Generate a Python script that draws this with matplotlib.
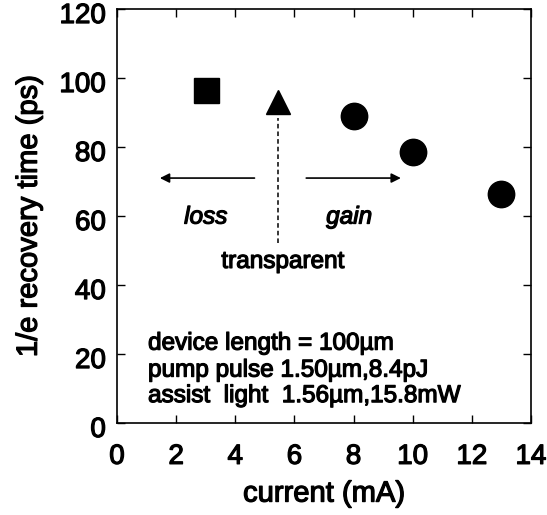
import matplotlib
matplotlib.use("Agg")
import matplotlib.pyplot as plt
import matplotlib.patheffects as pe
from matplotlib.transforms import ScaledTranslation

plt.rcParams['font.family'] = ['Liberation Sans', 'DejaVu Sans']

# data
loss_x = [3.0]
loss_y = [96.5]
transp_x = [5.45]
transp_y = [93.0]
gain_x = [8.0, 10.0, 13.0]
gain_y = [89.0, 78.5, 66.5]

xticks = [0, 2, 4, 6, 8, 10, 12, 14]
yticks = [0, 20, 40, 60, 80, 100, 120]

fig = plt.figure(figsize=(5.47, 5.15), dpi=100)
ax = fig.add_axes([0.2139, 0.1786, 0.7568, 0.8039])

ax.plot(loss_x, loss_y, 's', color='black', markersize=18)
ax.plot(transp_x, transp_y, '^', color='black', markersize=17)
ax.plot(gain_x, gain_y, 'o', color='black', markersize=19)

# arrows
ax.annotate('', xy=(1.45, 71), xytext=(4.65, 71),
            arrowprops=dict(arrowstyle='-|>', color='black', lw=1.2, mutation_scale=14, shrinkA=0, shrinkB=0))
ax.annotate('', xy=(9.6, 71), xytext=(6.4, 71),
            arrowprops=dict(arrowstyle='-|>', color='black', lw=1.2, mutation_scale=14, shrinkA=0, shrinkB=0))
ax.plot([5.45, 5.45], [52.2, 88.3], color='black', lw=1.1, ls=(0, (3, 2)))

thick = [pe.withStroke(linewidth=0.9, foreground='black')]
kw = dict(fontsize=17.5, path_effects=thick)
ax.text(3.0, 59.7, 'loss', style='italic', ha='center', va='center', **kw)
ax.text(7.85, 59.7, 'gain', style='italic', ha='center', va='center', **kw)
ax.text(5.6, 46.7, 'transparent', ha='center', va='center', **kw)

ax.text(1.05, 23.0, 'device length = 100µm', ha='left', va='center', **kw)
ax.text(1.05, 15.2, 'pump pulse 1.50µm,8.4pJ', ha='left', va='center', **kw)
ax.text(1.05, 7.8, 'assist  light  1.56µm,15.8mW', ha='left', va='center', **kw)

ax.set_xlim(0, 14)
ax.set_ylim(0, 120)
ax.set_xticks(xticks)
ax.set_yticks(yticks)
ax.tick_params(direction='in', length=6, width=1, top=True, right=True, labelsize=20)
ax.tick_params(axis='x', pad=15)
ax.tick_params(axis='y', pad=8)
shift = ScaledTranslation(0, -4 / 100, fig.dpi_scale_trans)
for lbl in ax.get_xticklabels():
    lbl.set_path_effects(thick)
for lbl in ax.get_yticklabels():
    lbl.set_path_effects(thick)
    lbl.set_transform(lbl.get_transform() + shift)
for s in ax.spines.values():
    s.set_linewidth(1.2)
ax.set_xlabel('current (mA)', fontsize=21, labelpad=7, path_effects=thick)
ax.set_ylabel('1/e recovery time (ps)', fontsize=21, labelpad=12, path_effects=thick)

fig.savefig('out.png', dpi=100)
